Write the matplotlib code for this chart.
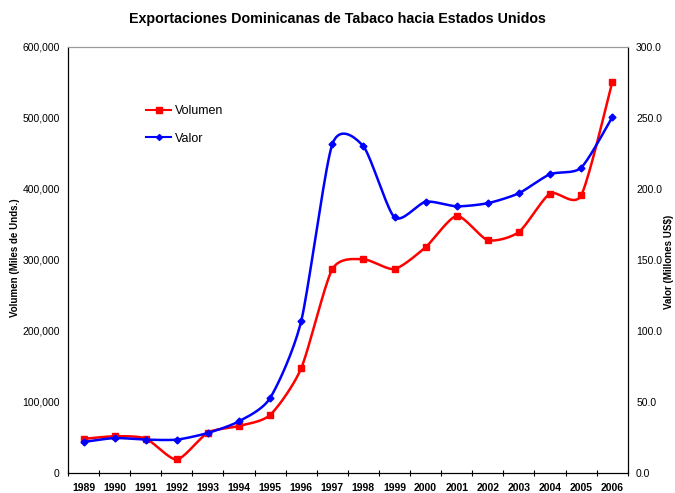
import numpy as np
import matplotlib
matplotlib.use("Agg")
import matplotlib.pyplot as plt
from matplotlib.ticker import FuncFormatter, MultipleLocator

years = [str(y) for y in range(1989, 2007)]

volumen = [48000, 51700, 48500, 19000, 56900, 66200, 81700, 147500, 287000,
           301000, 287300, 318000, 362000, 328000, 339400, 393500, 391000, 550300]

valor = [21.8, 24.6, 23.5, 23.5, 28.2, 36.4, 52.8, 107.0, 231.5,
         230.0, 180.0, 191.0, 187.8, 190.0, 197.0, 210.4, 215.0, 250.5]


def smooth(x, y, n=20, k=8.5):
    # Excel-style smoothed line (bezier through the points)
    x = np.asarray(x, float)
    y = np.asarray(y, float)
    px = np.concatenate([[x[0]], x, [x[-1]]])
    py = np.concatenate([[y[0]], y, [y[-1]]])
    xs, ys = [], []
    t = np.linspace(0, 1, n)
    for i in range(1, len(px) - 2):
        p0 = np.array([px[i], py[i]])
        p3 = np.array([px[i + 1], py[i + 1]])
        c1 = p0 + (p3 - np.array([px[i - 1], py[i - 1]])) / k
        c2 = p3 - (np.array([px[i + 2], py[i + 2]]) - p0) / k
        b = ((1 - t) ** 3)[:, None] * p0 + (3 * (1 - t) ** 2 * t)[:, None] * c1 \
            + (3 * (1 - t) * t ** 2)[:, None] * c2 + (t ** 3)[:, None] * p3
        xs.extend(b[:, 0])
        ys.extend(b[:, 1])
    return xs, ys


plt.rcParams['font.family'] = ['Liberation Sans', 'DejaVu Sans']

fig = plt.figure(figsize=(6.75, 4.93), dpi=100)
ax = fig.add_axes([0.1007, 0.0406, 0.8293, 0.8641])
ax2 = ax.twinx()

x = np.arange(len(years))

sx, sy = smooth(x, volumen)
ax.plot(sx, sy, color='#ff0000', lw=1.8, zorder=3)
ax.plot(x, volumen, ls='none', marker='s', ms=5, color='#ff0000', zorder=4)

sx, sy = smooth(x, valor)
ax2.plot(sx, sy, color='#0000ff', lw=1.8, zorder=3)
ax2.plot(x, valor, ls='none', marker='D', ms=3.5, color='#0000ff', zorder=4)

ax.set_xlim(-0.5, len(years) - 0.5)
ax.set_ylim(0, 600000)
ax2.set_ylim(0, 300)
ax.yaxis.set_major_locator(MultipleLocator(100000))
ax2.yaxis.set_major_locator(MultipleLocator(50))
ax.yaxis.set_major_formatter(FuncFormatter(lambda v, p: f"{int(v):,}"))
ax2.yaxis.set_major_formatter(FuncFormatter(lambda v, p: f"{v:.1f}"))

ax.set_xticks(x)
ax.set_xticklabels(years, fontsize=7.5, fontweight='bold')
ax.set_xticks(np.arange(-0.5, len(years)), minor=True)
ax.tick_params(axis='x', which='major', length=0, pad=7)
ax.tick_params(axis='x', which='minor', length=5, direction='inout', width=0.8)
ax.tick_params(axis='y', length=0, labelsize=7.5, pad=6)
ax2.tick_params(axis='y', length=0, labelsize=7.5, pad=6)

for a in (ax, ax2):
    a.spines['top'].set_color('#999999')
    a.spines['left'].set_color('black')
    a.spines['right'].set_color('black')
    a.spines['bottom'].set_color('black')

fig.text(15 / 675, 1 - 258 / 493, 'Volumen (Miles de Unds.)', rotation=90,
         ha='center', va='center', fontsize=7, fontweight='bold')
fig.text(669 / 675, 1 - 262 / 493, 'Valor (Millones US$)', rotation=90,
         ha='center', va='center', fontsize=7, fontweight='bold')

fig.suptitle('Exportaciones Dominicanas de Tabaco hacia Estados Unidos',
             fontsize=10.3, fontweight='bold', y=0.975)

h1 = plt.Line2D([], [], color='#ff0000', marker='s', ms=4, lw=1.5)
h2 = plt.Line2D([], [], color='#0000ff', marker='D', ms=3, lw=1.5)
ax.legend([h1, h2], ['Volumen', 'Valor'], loc='upper left',
          bbox_to_anchor=(0.12, 0.89), frameon=False, fontsize=9,
          handlelength=2.0, handletextpad=0.3, labelspacing=1.25)

fig.savefig('out.png', dpi=100)
